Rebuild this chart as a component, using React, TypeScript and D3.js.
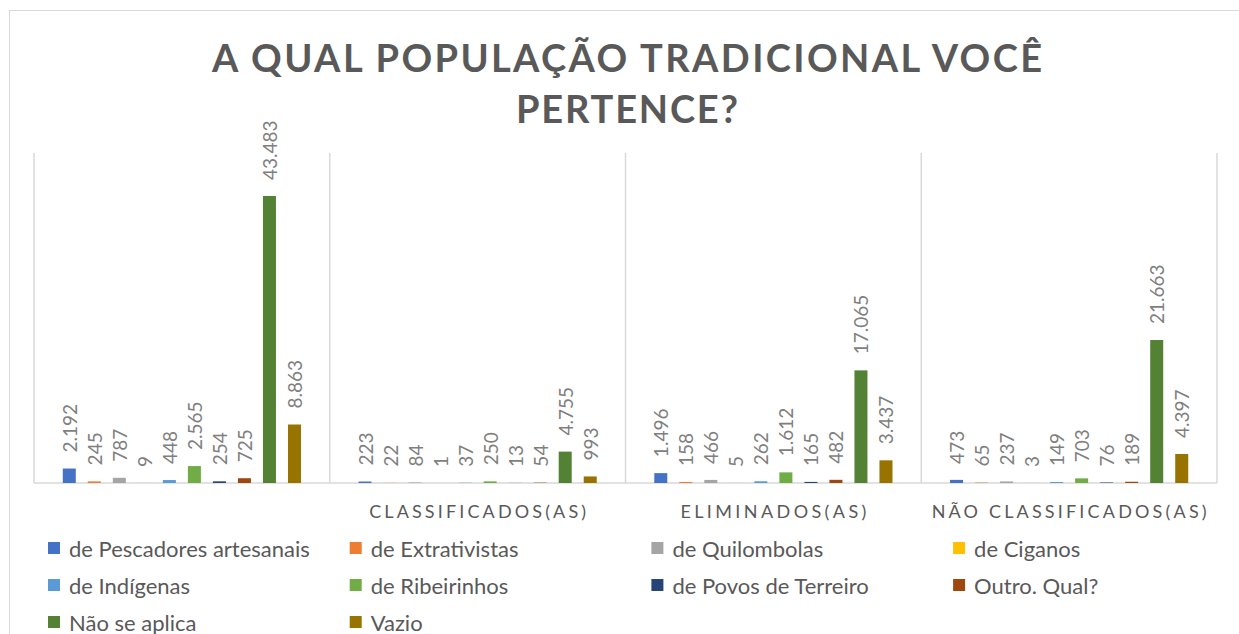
import React from "react";
import * as d3 from "d3";

const groups = ["", "CLASSIFICADOS(AS)", "ELIMINADOS(AS)", "NÃO CLASSIFICADOS(AS)"];
const series = [
  "de Pescadores artesanais",
  "de Extrativistas",
  "de Quilombolas",
  "de Ciganos",
  "de Indígenas",
  "de Ribeirinhos",
  "de Povos de Terreiro",
  "Outro. Qual?",
  "Não se aplica",
  "Vazio",
];
const colors = [
  "#4472C4",
  "#ED7D31",
  "#A5A5A5",
  "#FFC000",
  "#5B9BD5",
  "#70AD47",
  "#264478",
  "#9E480E",
  "#548235",
  "#997300",
];
// values[group][series]
const groupTotal = [2192, 245, 787, 9, 448, 2565, 254, 725, 43483, 8863];
const classificados = [223, 22, 84, 1, 37, 250, 13, 54, 4755, 993];
const eliminados = [1496, 158, 466, 5, 262, 1612, 165, 482, 17065, 3437];
const naoClassificados = [473, 65, 237, 3, 149, 703, 76, 189, 21663, 4397];
const values = [groupTotal, classificados, eliminados, naoClassificados];
const yMax = 50000;
const titleLines = ["A QUAL POPULAÇÃO TRADICIONAL VOCÊ", "PERTENCE?"];

const W = 1239;
const H = 634;
const plot = { left: 34, right: 1217, top: 153, bottom: 483 };
const FONT = "Lato, 'Open Sans', sans-serif";

const fmt = (v: number) => d3.format(",")(v).replace(/,/g, ".");

export default function App() {
  const x0 = d3.scaleBand<string>().domain(groups).range([plot.left, plot.right]).padding(0);
  const x1 = d3
    .scaleBand<string>()
    .domain(series)
    .range([0, x0.bandwidth()])
    .paddingInner(0.48)
    .paddingOuter(1.15);
  const y = d3.scaleLinear().domain([0, yMax]).range([plot.bottom, plot.top]);

  const boundaries = groups.map((g) => x0(g) as number).concat([plot.right]);
  const titleWidths = [830, 222];
  const catWidths = [0, 217, 186, 275];

  const legendCols = 4;
  const colStep = 301.7;
  const rowStep = 37;

  return (
    <svg
      width={W}
      height={H}
      style={{ position: "absolute", left: 0, top: 0, background: "#fff" }}
      fontFamily={FONT}
    >
      <rect x={0} y={0} width={W} height={H} fill="#fff" />
      <rect x={9.5} y={10.5} width={W + 20} height={H + 20} fill="none" stroke="#d9d9d9" strokeWidth={1} />

      {titleLines.map((t, i) => (
        <text
          key={i}
          x={627}
          y={72 + i * 51}
          textAnchor="middle"
          fontSize={38}
          fontWeight={700}
          fill="#595959"
          textLength={titleWidths[i]}
          lengthAdjust="spacing"
        >
          {t}
        </text>
      ))}

      {boundaries.map((bx, i) => (
        <line key={i} x1={bx} x2={bx} y1={plot.top} y2={plot.bottom} stroke="#d9d9d9" strokeWidth={1.5} />
      ))}
      <line x1={plot.left} x2={plot.right} y1={plot.bottom} y2={plot.bottom} stroke="#d9d9d9" strokeWidth={1.5} />

      {groups.map((g, gi) => (
        <g key={gi} transform={`translate(${x0(g)},0)`}>
          {series.map((s, si) => {
            const v = values[gi][si];
            const bx = x1(s) as number;
            const by = y(v);
            const cx = bx + x1.bandwidth() / 2;
            return (
              <g key={si}>
                <rect x={bx} y={by} width={x1.bandwidth()} height={plot.bottom - by} fill={colors[si]} />
                <text
                  transform={`translate(${cx},${by - 16}) rotate(-90)`}
                  textAnchor="start"
                  dominantBaseline="central"
                  fontSize={19}
                  fill="#7f7f7f"
                >
                  {fmt(v)}
                </text>
              </g>
            );
          })}
          {g && (
            <text
              x={x0.bandwidth() / 2}
              y={518}
              textAnchor="middle"
              fontSize={18}
              fill="#595959"
              textLength={catWidths[gi]}
              lengthAdjust="spacing"
            >
              {g}
            </text>
          )}
        </g>
      ))}

      {series.map((s, i) => {
        const col = i % legendCols;
        const row = Math.floor(i / legendCols);
        const lx = 48 + col * colStep;
        const ly = 548 + row * rowStep;
        return (
          <g key={s} transform={`translate(${lx},${ly})`}>
            <rect x={0} y={-6} width={12} height={12} fill={colors[i]} />
            <text x={21} y={0} dominantBaseline="central" fontSize={22} fill="#595959">
              {s}
            </text>
          </g>
        );
      })}
    </svg>
  );
}
